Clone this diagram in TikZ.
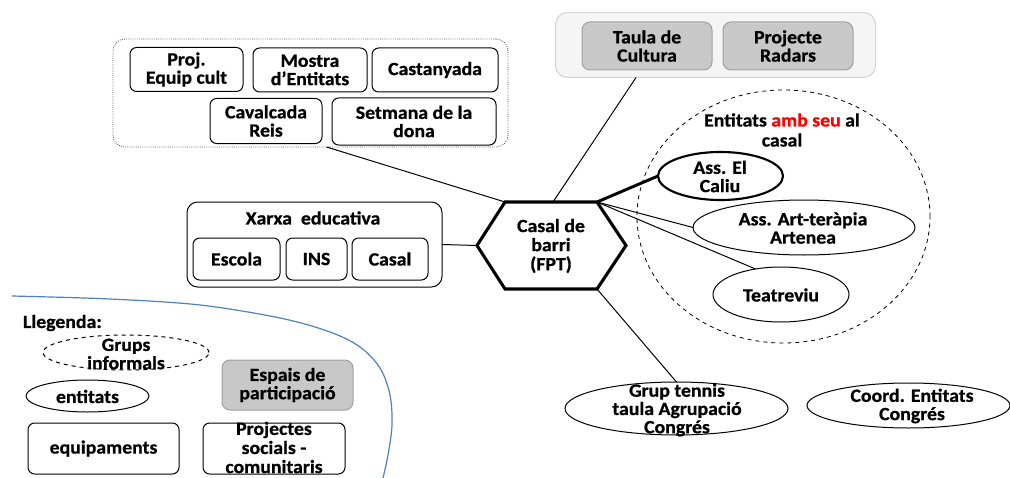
\documentclass[tikz,border=0pt]{standalone}
\usepackage{fontspec}
\setmainfont{Carlito}[FakeStretch=1.06, BoldFeatures={FakeBold=0.8}]
\usetikzlibrary{shapes.geometric,calc}
\definecolor{boxgray}{RGB}{200,200,200}
\definecolor{edgegray}{RGB}{160,160,160}
\definecolor{panelfill}{RGB}{245,245,245}
\definecolor{paneledge}{RGB}{210,210,210}
\definecolor{curveblue}{RGB}{79,129,189}
\definecolor{seured}{RGB}{255,0,0}
\begin{document}
\begin{tikzpicture}[x=0.75pt,y=-0.75pt,
  every node/.style={font=\fontsize{14pt}{13.7pt}\selectfont\bfseries, align=center, inner sep=0pt, outer sep=0pt},
  sz/.style 2 args={minimum width=#1*0.75pt, minimum height=#2*0.75pt},
  box/.style={draw, rounded corners=5pt, line width=0.75pt},
  graybox/.style={draw=edgegray, fill=boxgray, rounded corners=6pt, line width=0.75pt},
  panel/.style={draw=paneledge, fill=panelfill, rounded corners=9pt, line width=0.75pt},
  dotgroup/.style={draw=black!70, densely dotted, rounded corners=9pt, line width=0.6pt},
  bigbox/.style={draw, rounded corners=8pt, line width=0.75pt},
  ell/.style={ellipse, draw, line width=0.75pt},
  conn/.style={draw, line width=0.75pt},
  thickconn/.style={draw, line width=2.2pt},
  hexline/.style={draw, line width=2.3pt, line join=miter},
  bluecurve/.style={draw=curveblue, line width=0.9pt}
]
\useasboundingbox (0,0) rectangle (1010,478);

% ---------- top-left dotted group ----------
\node[dotgroup, sz={395}{108}] (g1) at (310.5,93) {};
\node[box, sz={113}{44}] (proj) at (186.5,69.5) {Proj.\\Equip cult};
\node[box, sz={114}{44}] (mostra) at (310,70) {Mostra\\d’Entitats};
\node[box, sz={126}{44}] (cast) at (435,70) {Castanyada};
\node[box, sz={112}{45}] (caval) at (266,121) {Cavalcada\\Reis};
\node[box, sz={164}{47}] (setm) at (414,121.5) {Setmana de la\\dona};

% ---------- top-right panel ----------
\node[panel, sz={320}{65}] (tr) at (715.5,45) {};
\node[graybox, sz={130}{48}] (taula) at (647,46) {Taula de\\Cultura};
\node[graybox, sz={130}{48}] (radars) at (788,46) {Projecte\\Radars};

% ---------- Xarxa educativa ----------
\node[bigbox, sz={255}{85}] (xarxa) at (314.5,244.5) {};
\node (xtitle) at (313,218) {Xarxa\ \ educativa};
\node[box, sz={87}{42}] (escola) at (236.5,259) {Escola};
\node[box, sz={61}{42}] (ins) at (316.5,259) {INS};
\node[box, sz={76}{42}] (casalx) at (390,259) {Casal};

% ---------- hexagon ----------
\coordinate (hxl) at (477,245.5);
\coordinate (hxtl) at (505,202);
\coordinate (hxtr) at (597,202);
\coordinate (hxr) at (626,245.5);
\coordinate (hxbr) at (597,289);
\coordinate (hxbl) at (505,289);
\coordinate (hxt) at (553,202);
\draw[hexline] (hxl) -- (hxtl) -- (hxtr) -- (hxr) -- (hxbr) -- (hxbl) -- cycle;
\node[font=\fontsize{14pt}{14.3pt}\selectfont\bfseries] (casal) at (551,246) {Casal de\\barri\\(FPT)};

% ---------- Entitats amb seu al casal ----------
\node[ellipse, draw, dashed, line width=0.6pt, sz={293}{253}] (seu) at (783.5,216.5) {};
\node[font=\fontsize{14pt}{15pt}\selectfont\bfseries] (seutitle) at (782,130) {Entitats \textcolor{seured}{amb seu} al\\casal};
\node[ell, line width=1.6pt, sz={125}{48}] (caliu) at (720.5,176) {};
\node (caliut) at (720,176.5) {Ass. El\\Caliu};
\node[ell, sz={222}{55}] (art) at (804,227.5) {};
\node (artt) at (803,228) {Ass. Art-teràpia\\Artenea};
\node[ell, sz={136}{55}] (teat) at (781,294.5) {};
\node (teatt) at (781,295) {Teatreviu};

% ---------- bottom-right ellipses ----------
\node[ell, sz={223}{53}] (tennis) at (676.5,408.5) {};
\node (tennist) at (677,410) {Grup tennis\\taula Agrupació\\Congrés};
\node[ell, sz={203}{45}] (coord) at (908.5,405.5) {};
\node (coordt) at (912,406) {Coord. Entitats\\Congrés};

% ---------- connectors ----------
\draw[conn] ([xshift=12pt]g1.south) -- (hxtl);
\draw[conn] ([xshift=-59.6pt]tr.south) -- (hxt);
\draw[conn] (xarxa.east) -- (hxl);
\draw[thickconn] (hxtr) -- (caliu.west);
\draw[conn] (hxtr) -- (art.west);
\draw[conn] (hxtr) -- (teat.135);
\draw[conn] (hxbr) -- (tennis.north);

% ---------- legend ----------
\draw[bluecurve] plot[smooth, tension=0.55] coordinates {(12,296) (110,299) (200,305) (280,318) (330,332) (360,347) (380,368) (390,395) (392,425) (388,455) (383,478)};
\node[anchor=west] (lleg) at (23,323) {Llegenda:};
\node[ellipse, draw, dashed, line width=0.75pt, sz={166}{35}] (grups) at (126,352.5) {};
\node (grupst) at (126,354) {Grups\\informals};
\node[ell, sz={123}{32}] (entl) at (87.5,396) {};
\node (entlt) at (87.5,396.5) {entitats};
\node[graybox, sz={131}{50}] (espais) at (287.5,385) {Espais de\\participació};
\node[box, sz={151}{51}] (equip) at (103.5,448.5) {equipaments};
\node[box, sz={142}{51}] (projs) at (274,448.5) {};
\node[font=\fontsize{14pt}{14.3pt}\selectfont\bfseries] (projst) at (274,447.5) {Projectes\\socials -\\comunitaris};
\end{tikzpicture}
\end{document}
